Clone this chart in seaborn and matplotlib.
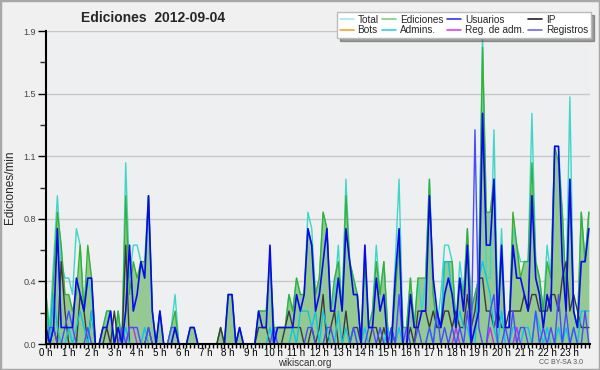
import numpy as np
import pandas as pd
import seaborn as sns
import matplotlib.pyplot as plt
from matplotlib.lines import Line2D
from matplotlib.patches import Rectangle
from matplotlib.ticker import FixedLocator, MultipleLocator

sns.set_theme(style="white")
plt.rcParams["font.family"] = ["Liberation Sans", "DejaVu Sans"]

# edits per 10 minutes, one row per hour (6 slots each)
total = [
    3, 1, 5, 9, 5, 4,  4, 3, 7, 6, 2, 4,  3, 0, 0, 1, 2, 2,
    0, 2, 0, 11, 4, 6,  6, 5, 4, 9, 2, 0,  2, 0, 0, 1, 3, 0,
    0, 0, 1, 1, 0, 0,  0, 0, 0, 0, 1, 0,  3, 3, 0, 1, 0, 0,
    0, 0, 2, 2, 2, 5,  1, 1, 1, 1, 3, 2,  4, 3, 3, 8, 7, 3,
    4, 8, 7, 2, 3, 6,  2, 10, 5, 4, 3, 0,  6, 1, 2, 6, 3, 5,
    1, 0, 5, 10, 1, 1,  4, 1, 4, 2, 4, 10,  3, 1, 3, 6, 6, 5,
    1, 5, 3, 7, 2, 3,  4, 19, 4, 4, 13, 2,  7, 1, 1, 7, 6, 5,
    5, 5, 14, 5, 4, 2,  6, 4, 12, 12, 8, 3,  15, 2, 1, 8, 5, 8,
]
ediciones = [
    3, 0, 4, 8, 6, 3,  3, 2, 3, 6, 2, 6,  4, 0, 0, 1, 2, 2,
    0, 2, 0, 9, 3, 5,  4, 5, 5, 9, 2, 0,  2, 0, 0, 1, 2, 0,
    0, 0, 1, 1, 0, 0,  0, 0, 0, 0, 1, 0,  3, 3, 0, 1, 0, 0,
    0, 0, 2, 2, 2, 5,  1, 1, 1, 1, 3, 2,  4, 3, 3, 7, 6, 3,
    4, 8, 7, 2, 4, 5,  2, 9, 5, 4, 3, 0,  5, 1, 2, 5, 3, 5,
    1, 0, 3, 6, 1, 1,  4, 1, 4, 4, 4, 10,  3, 1, 1, 5, 5, 5,
    1, 4, 3, 7, 2, 3,  4, 18, 8, 8, 10, 2,  5, 1, 1, 8, 6, 4,
    5, 5, 11, 5, 4, 2,  5, 4, 12, 11, 8, 3,  10, 2, 1, 8, 5, 8,
]
usuarios = [
    1, 0, 1, 7, 1, 1,  1, 1, 4, 3, 2, 4,  4, 0, 0, 1, 1, 2,
    0, 1, 0, 2, 6, 2,  3, 5, 4, 9, 2, 0,  2, 0, 0, 0, 1, 0,
    0, 0, 1, 1, 0, 0,  0, 0, 0, 0, 0, 0,  3, 3, 0, 1, 0, 0,
    0, 0, 2, 1, 1, 6,  0, 1, 1, 1, 1, 1,  3, 2, 3, 7, 6, 2,
    3, 5, 7, 2, 2, 4,  2, 7, 5, 3, 3, 0,  6, 1, 1, 4, 2, 3,
    0, 0, 4, 7, 0, 0,  3, 1, 1, 2, 2, 9,  4, 2, 1, 3, 4, 3,
    1, 4, 2, 6, 0, 1,  2, 14, 6, 6, 10, 1,  6, 1, 1, 6, 4, 4,
    3, 2, 9, 4, 3, 1,  3, 2, 12, 12, 5, 2,  10, 2, 1, 5, 5, 7,
]
ip = [
    1, 0, 1, 0, 5, 2,  0, 0, 0, 3, 2, 0,  2, 0, 0, 0, 1, 0,
    2, 0, 0, 6, 0, 0,  0, 0, 0, 1, 0, 0,  0, 0, 0, 0, 0, 0,
    0, 0, 0, 0, 0, 0,  0, 0, 0, 0, 1, 0,  0, 0, 0, 0, 0, 0,
    0, 0, 1, 1, 1, 0,  0, 0, 0, 1, 2, 1,  1, 1, 0, 0, 1, 0,
    1, 3, 0, 1, 2, 0,  0, 2, 0, 1, 1, 0,  0, 0, 1, 1, 0, 1,
    0, 1, 0, 0, 0, 0,  1, 0, 2, 2, 2, 1,  2, 1, 1, 2, 2, 1,
    2, 1, 1, 3, 1, 2,  4, 4, 2, 2, 1, 2,  1, 1, 2, 2, 2, 2,
    3, 2, 3, 3, 2, 2,  2, 3, 3, 2, 4, 5,  2, 3, 2, 1, 1, 1,
]
bots = [0] * 144
admins = [
    2, 0, 3, 1, 0, 0,  1, 0, 1, 2, 1, 0,  2, 0, 0, 0, 0, 0,
    0, 0, 0, 1, 0, 0,  0, 0, 1, 0, 0, 0,  0, 0, 0, 1, 1, 0,
    0, 0, 0, 0, 0, 0,  0, 0, 0, 0, 0, 0,  0, 0, 0, 0, 0, 0,
    0, 0, 0, 0, 0, 1,  0, 0, 0, 0, 0, 1,  0, 2, 2, 2, 1, 2,
    0, 2, 1, 0, 0, 2,  0, 1, 0, 1, 0, 0,  1, 0, 0, 0, 0, 0,
    1, 0, 0, 1, 0, 0,  0, 0, 0, 0, 0, 1,  0, 2, 1, 5, 5, 3,
    1, 2, 1, 1, 0, 0,  4, 5, 4, 3, 1, 0,  2, 0, 0, 1, 1, 0,
    1, 1, 0, 2, 1, 0,  1, 0, 0, 1, 0, 1,  0, 1, 0, 2, 2, 2,
]
reg_adm = [
    0, 0, 0, 0, 0, 0,  0, 0, 0, 0, 0, 0,  0, 0, 0, 0, 0, 0,
    0, 0, 0, 0, 1, 1,  0, 0, 0, 0, 0, 0,  0, 0, 0, 0, 0, 0,
    0, 0, 0, 0, 0, 0,  0, 0, 0, 0, 0, 0,  0, 0, 0, 0, 0, 0,
    0, 0, 0, 0, 0, 0,  0, 0, 0, 0, 0, 0,  0, 0, 0, 0, 0, 0,
    0, 0, 0, 0, 0, 0,  0, 0, 0, 0, 0, 0,  0, 0, 0, 0, 0, 0,
    0, 0, 0, 0, 0, 0,  0, 0, 0, 0, 0, 0,  0, 0, 0, 0, 0, 0,
    1, 0, 0, 0, 0, 0,  0, 0, 0, 1, 0, 0,  0, 0, 0, 0, 1, 0,
    0, 0, 0, 0, 0, 0,  0, 0, 0, 0, 0, 0,  0, 0, 0, 0, 0, 0,
]
registros = [
    0, 1, 1, 0, 0, 1,  2, 1, 0, 0, 0, 1,  0, 0, 0, 0, 0, 0,
    0, 0, 1, 0, 1, 1,  1, 0, 0, 1, 0, 0,  0, 0, 0, 1, 1, 0,
    0, 0, 0, 0, 0, 0,  0, 0, 0, 0, 0, 0,  0, 0, 0, 0, 0, 0,
    0, 0, 0, 0, 0, 0,  1, 0, 0, 0, 0, 0,  0, 0, 0, 1, 1, 0,
    0, 0, 1, 1, 0, 0,  0, 0, 0, 1, 0, 0,  0, 1, 1, 0, 1, 0,
    0, 1, 0, 3, 0, 1,  0, 0, 1, 0, 0, 1,  0, 2, 0, 1, 0, 1,
    0, 1, 0, 2, 0, 13,  1, 0, 0, 2, 3, 0,  0, 1, 0, 2, 0, 1,
    1, 0, 0, 2, 0, 1,  0, 1, 0, 3, 0, 2,  0, 1, 0, 0, 2, 0,
]

hour_labels = [f"{h} h" for h in range(24)]
y_max = 1.9

series = {
    "Total": total, "Ediciones": ediciones, "IP": ip, "Admins.": admins,
    "Reg. de adm.": reg_adm, "Registros": registros, "Bots": bots,
    "Usuarios": usuarios,
}
line_colors = {
    "Total": "#3fd6c8", "Ediciones": "#38b038", "IP": "#3a3a3a",
    "Admins.": "#12c4e0", "Reg. de adm.": "#c030e8", "Registros": "#4a4aff",
    "Bots": "#ff9a1a", "Usuarios": "#0a0ae8",
}
legend_colors = {
    "Total": "#a8e8e8", "Ediciones": "#80d080", "Usuarios": "#3333ff",
    "IP": "#222222", "Bots": "#ffa020", "Admins.": "#30d0e8",
    "Reg. de adm.": "#e040ff", "Registros": "#6a6aff",
}
legend_order = ["Total", "Bots", "Ediciones", "Admins.", "Usuarios",
                "Reg. de adm.", "IP", "Registros"]

slots = np.arange(144)
df = pd.DataFrame([
    {"slot": i, "value": v / 10, "serie": name}
    for name, vals in series.items() for i, v in enumerate(vals)
])

fig = plt.figure(figsize=(6, 3.7), dpi=100, facecolor="#f0f0f0")
ax = fig.add_axes([46 / 600, 1 - 344 / 370, 544 / 600, 313 / 370])
ax.set_facecolor("#eeeff1")

ax.fill_between(slots, np.array(ediciones) / 10, color="#94c994", lw=0,
                zorder=1)
sns.lineplot(data=df, x="slot", y="value", hue="serie",
             hue_order=list(series), palette=line_colors, lw=1.0,
             legend=False, ax=ax, zorder=2)
ax.get_lines()[-1].set_linewidth(1.2)

major = np.linspace(0, y_max, 6)
ax.set_ylim(0, y_max)
ax.yaxis.set_major_locator(FixedLocator(major))
ax.yaxis.set_minor_locator(FixedLocator(major[:-1] + y_max / 10))
ax.set_yticklabels([f"{v:.1f}" for v in major])
ax.set_xlim(0, 143.3)
ax.set_xticks(np.arange(0, 144, 6))
ax.set_xticklabels(hour_labels)
ax.xaxis.set_minor_locator(MultipleLocator(1))
ax.grid(axis="y", color="#c8c8c8", lw=1)
ax.set_axisbelow(True)
for side in ["top", "right"]:
    ax.spines[side].set_visible(False)
for side in ["left", "bottom"]:
    ax.spines[side].set_color("black")
    ax.spines[side].set_linewidth(1.5)
    ax.spines[side].set_zorder(5)
ax.tick_params(axis="y", which="major", left=True, length=6, width=1,
               labelsize=6.5, pad=1, colors="black", labelcolor="#444444")
ax.tick_params(axis="y", which="minor", left=True, length=4, width=1)
ax.tick_params(axis="x", which="both", bottom=True, length=3, width=1,
               labelsize=7, pad=0, colors="black")
ax.set_xlabel("")
ax.set_ylabel("Ediciones/min", fontsize=8.5)
ax.yaxis.set_label_coords(-0.055, 0.5)

fig.text(0.255, 0.952, "Ediciones  2012-09-04", ha="center", va="center",
         fontsize=10, fontweight="bold")
fig.text(0.508, 0.018, "wikiscan.org", ha="center", va="center",
         fontsize=7, color="#333333")
fig.text(0.972, 0.02, "CC BY-SA 3.0", ha="right", va="center",
         fontsize=5, color="#555555")

handles = [Line2D([], [], color=legend_colors[n], lw=1.2)
           for n in legend_order]
fig.legend(handles, legend_order, ncol=4, loc="upper right",
           bbox_to_anchor=(0.985, 0.968), borderaxespad=0, fontsize=7.2,
           frameon=True, fancybox=False, shadow=True, edgecolor="#bbbbbb",
           facecolor="white", framealpha=1, handlelength=1.4,
           handletextpad=0.35, columnspacing=0.4, labelspacing=0.05,
           borderpad=0.3)

fig.patches.append(Rectangle((0, 0), 1, 1, transform=fig.transFigure,
                             fill=False, edgecolor="#a8a8a8", lw=2.5))

fig.savefig("out.png", dpi=100, facecolor=fig.get_facecolor())
